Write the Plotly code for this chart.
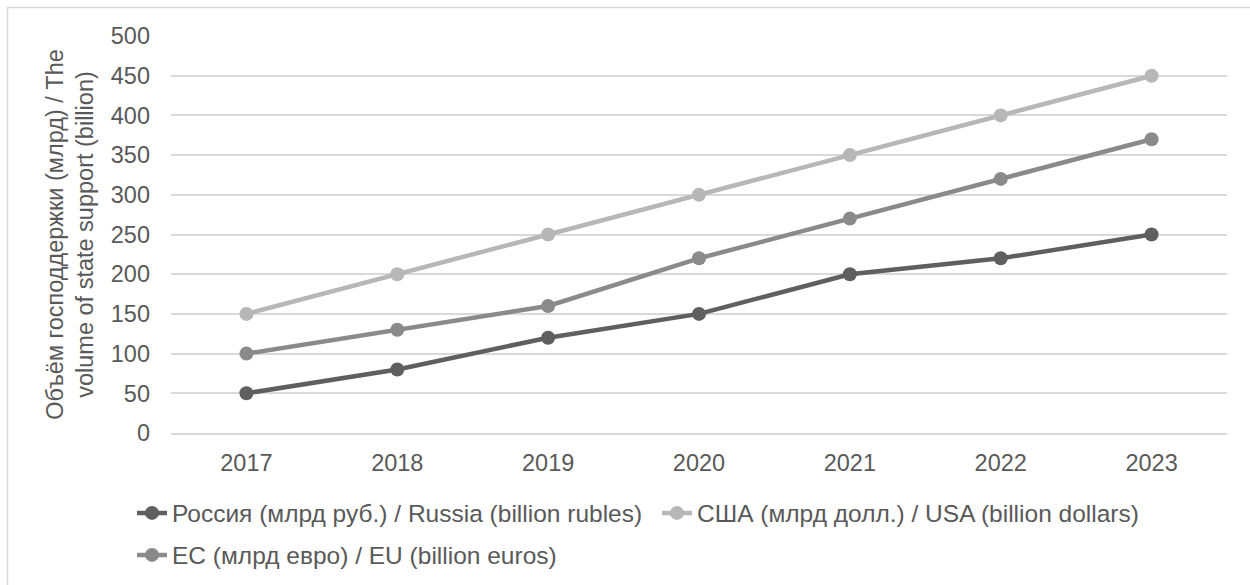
import plotly.graph_objects as go

years = ["2017", "2018", "2019", "2020", "2021", "2022", "2023"]
russia = [50, 80, 120, 150, 200, 220, 250]
usa = [150, 200, 250, 300, 350, 400, 450]
eu = [100, 130, 160, 220, 270, 320, 370]

names = [
    "Россия (млрд руб.) / Russia (billion rubles)",
    "США (млрд долл.) / USA (billion dollars)",
    "ЕС (млрд евро) / EU (billion euros)",
]
colors = ["#5f5f5f", "#b7b7b7", "#8a8a8a"]
series = [russia, usa, eu]
legend_ids = ["legend", "legend2", "legend3"]

W, H = 1250, 585
ML, MR, MT, MB = 171, 23, 36, 152
PW, PH = W - ML - MR, H - MT - MB

def px_x(p):
    return (p - ML) / PW

def px_y(p):
    return 1 - (p - MT) / PH

fig = go.Figure()
for name, col, vals, lg in zip(names, colors, series, legend_ids):
    fig.add_trace(go.Scatter(
        x=years, y=vals, name=name, mode="lines+markers",
        line=dict(color=col, width=4.5),
        marker=dict(color=col, size=14),
        legend=lg,
    ))

font = dict(family="Liberation Sans, Arial, sans-serif", size=23.5, color="#595959")
lfont = dict(family="Liberation Sans, Arial, sans-serif", size=24.5, color="#595959")

def leg(xpx, ypx):
    return dict(orientation="h", xref="container", yref="container",
                x=xpx / W, y=1 - ypx / H, xanchor="left", yanchor="middle",
                font=lfont, itemwidth=30, bgcolor="rgba(0,0,0,0)")

fig.update_layout(
    width=W, height=H,
    margin=dict(l=ML, r=MR, t=MT, b=MB, autoexpand=False),
    paper_bgcolor="white", plot_bgcolor="white",
    font=font,
    showlegend=True,
    legend=leg(132, 513),
    legend2=leg(657, 513),
    legend3=leg(132, 555),
    xaxis=dict(type="category", range=[-0.5, 6.5], showgrid=False,
               showline=True, linecolor="#d9d9d9", linewidth=1.5,
               ticks="", tickfont=font, ticklabelstandoff=8),
    yaxis=dict(range=[0, 500], dtick=50, showgrid=True, gridcolor="#d9d9d9",
               gridwidth=1.5, zeroline=False, showline=False, ticks="",
               tickfont=font, ticklabelstandoff=20,
               title=dict(text="Объём господдержки (млрд) / The<br>volume of state support (billion)",
                          font=font, standoff=10)),
    shapes=[dict(type="rect", xref="paper", yref="paper",
                 x0=px_x(7.5), x1=px_x(1262), y0=px_y(600), y1=px_y(7.5),
                 line=dict(color="#d9d9d9", width=1.5), layer="below")],
)

fig.write_html("out.html")
